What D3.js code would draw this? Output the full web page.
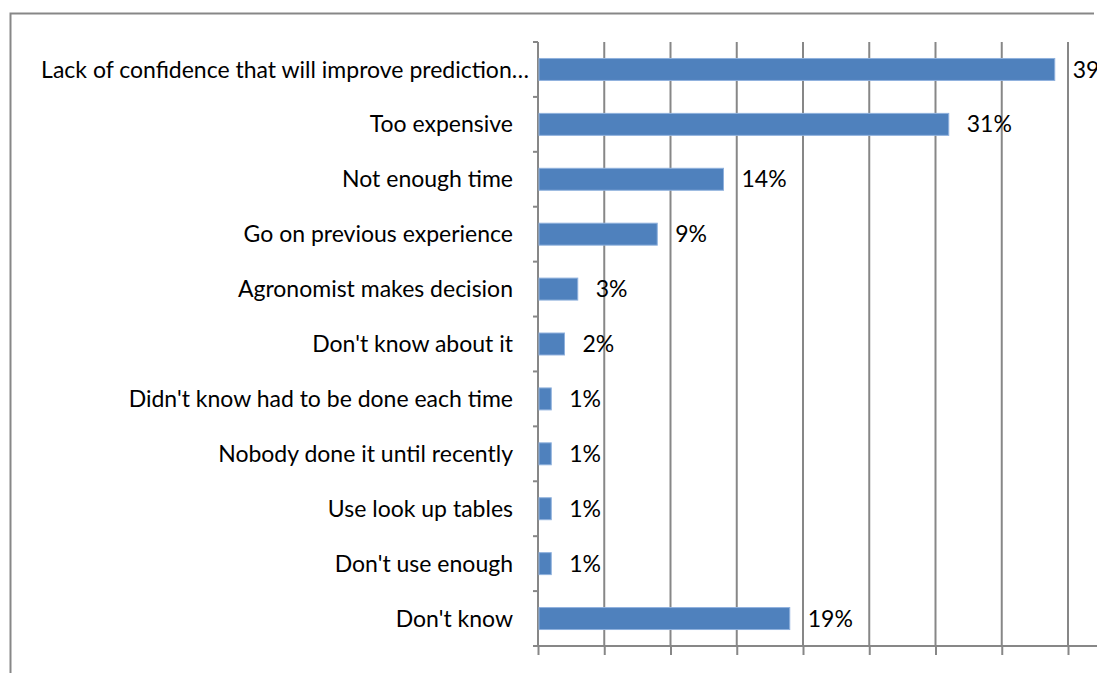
<!DOCTYPE html>
<html>
<head>
<meta charset="utf-8">
<script src="https://cdn.jsdelivr.net/npm/d3@7"></script>
<style>
  html, body { margin: 0; padding: 0; background: #fff; }
  svg { display: block; }
  text { font-family: Lato, "Open Sans", sans-serif; fill: #000; }
</style>
</head>
<body>
<svg id="chart" width="1097" height="673"></svg>
<script>
// Reasons given, top to bottom
const categories = [
  "Lack of confidence that will improve prediction…",
  "Too expensive",
  "Not enough time",
  "Go on previous experience",
  "Agronomist makes decision",
  "Don't know about it",
  "Didn't know had to be done each time",
  "Nobody done it until recently",
  "Use look up tables",
  "Don't use enough",
  "Don't know"
];
// Share of respondents (%)
const values = [39, 31, 14, 9, 3, 2, 1, 1, 1, 1, 19];
// Value-axis gridline positions (%)
const gridTicks = [0, 5, 10, 15, 20, 25, 30, 35, 40, 45];

const title = "Figure 5: Reasons for not soil testing";

const svg = d3.select("#chart");
const W = 1097, H = 673;
const plotLeft = 538, plotTop = 42, plotBottom = 646;
const pxPerUnit = 13.25;
const fontSize = 23;

const x = d3.scaleLinear().domain([0, 45]).range([plotLeft, plotLeft + 45 * pxPerUnit]);
const y = d3.scaleBand().domain(categories).range([plotTop, plotBottom])
  .paddingInner(0.6).paddingOuter(0.3);

const grey = "#878787";

// Title (sits above the frame)
svg.append("text")
  .attr("x", 10).attr("y", -4)
  .attr("font-weight", "bold")
  .attr("font-size", fontSize + 1)
  .text(title);

// Outer frame (left and top edges)
svg.append("path")
  .attr("d", `M10.5,${H + 2}V13.5H1094`)
  .attr("fill", "none")
  .attr("stroke", grey)
  .attr("stroke-width", 2);

// Vertical gridlines
svg.append("g")
  .selectAll("line")
  .data(gridTicks.filter(d => d > 0))
  .join("line")
  .attr("x1", d => x(d)).attr("x2", d => x(d))
  .attr("y1", plotTop).attr("y2", plotBottom)
  .attr("stroke", grey)
  .attr("stroke-width", 2);

// Value axis along the bottom
const xAxis = d3.axisBottom(x).tickValues(gridTicks).tickSize(9).tickFormat("");
const gx = svg.append("g").attr("transform", `translate(0,${plotBottom})`).call(xAxis);
gx.select(".domain").remove();
gx.selectAll(".tick line").attr("stroke", grey).attr("stroke-width", 2);
svg.append("line")
  .attr("x1", plotLeft - 5).attr("x2", W + 5)
  .attr("y1", plotBottom).attr("y2", plotBottom)
  .attr("stroke", grey).attr("stroke-width", 2);

// Category axis with tick marks between bands
const bounds = d3.range(categories.length + 1).map(i => plotTop + i * y.step());
svg.append("g")
  .selectAll("line")
  .data(bounds)
  .join("line")
  .attr("x1", plotLeft - 5).attr("x2", plotLeft)
  .attr("y1", d => d).attr("y2", d => d)
  .attr("stroke", grey).attr("stroke-width", 2);
svg.append("line")
  .attr("x1", plotLeft).attr("x2", plotLeft)
  .attr("y1", plotTop).attr("y2", plotBottom)
  .attr("stroke", grey).attr("stroke-width", 2);

// Bars
svg.append("g")
  .selectAll("rect")
  .data(values)
  .join("rect")
  .attr("x", x(0) + 1)
  .attr("y", (d, i) => y(categories[i]))
  .attr("width", d => x(d) - x(0) - 1)
  .attr("height", y.bandwidth())
  .attr("fill", "#4f81bd")
  .attr("stroke", "#8fb1dd")
  .attr("stroke-width", 1);

// Category labels
svg.append("g")
  .selectAll("text")
  .data(categories)
  .join("text")
  .attr("x", d => d.endsWith("…") ? plotLeft - 9 : plotLeft - 25)
  .attr("y", d => y(d) + y.bandwidth() / 2)
  .attr("dy", "0.35em")
  .attr("text-anchor", "end")
  .attr("font-size", fontSize)
  .text(d => d);

// Value labels
svg.append("g")
  .selectAll("text")
  .data(values)
  .join("text")
  .attr("x", d => x(d) + 18)
  .attr("y", (d, i) => y(categories[i]) + y.bandwidth() / 2)
  .attr("dy", "0.35em")
  .attr("font-size", fontSize)
  .text(d => d + "%");
</script>
</body>
</html>
